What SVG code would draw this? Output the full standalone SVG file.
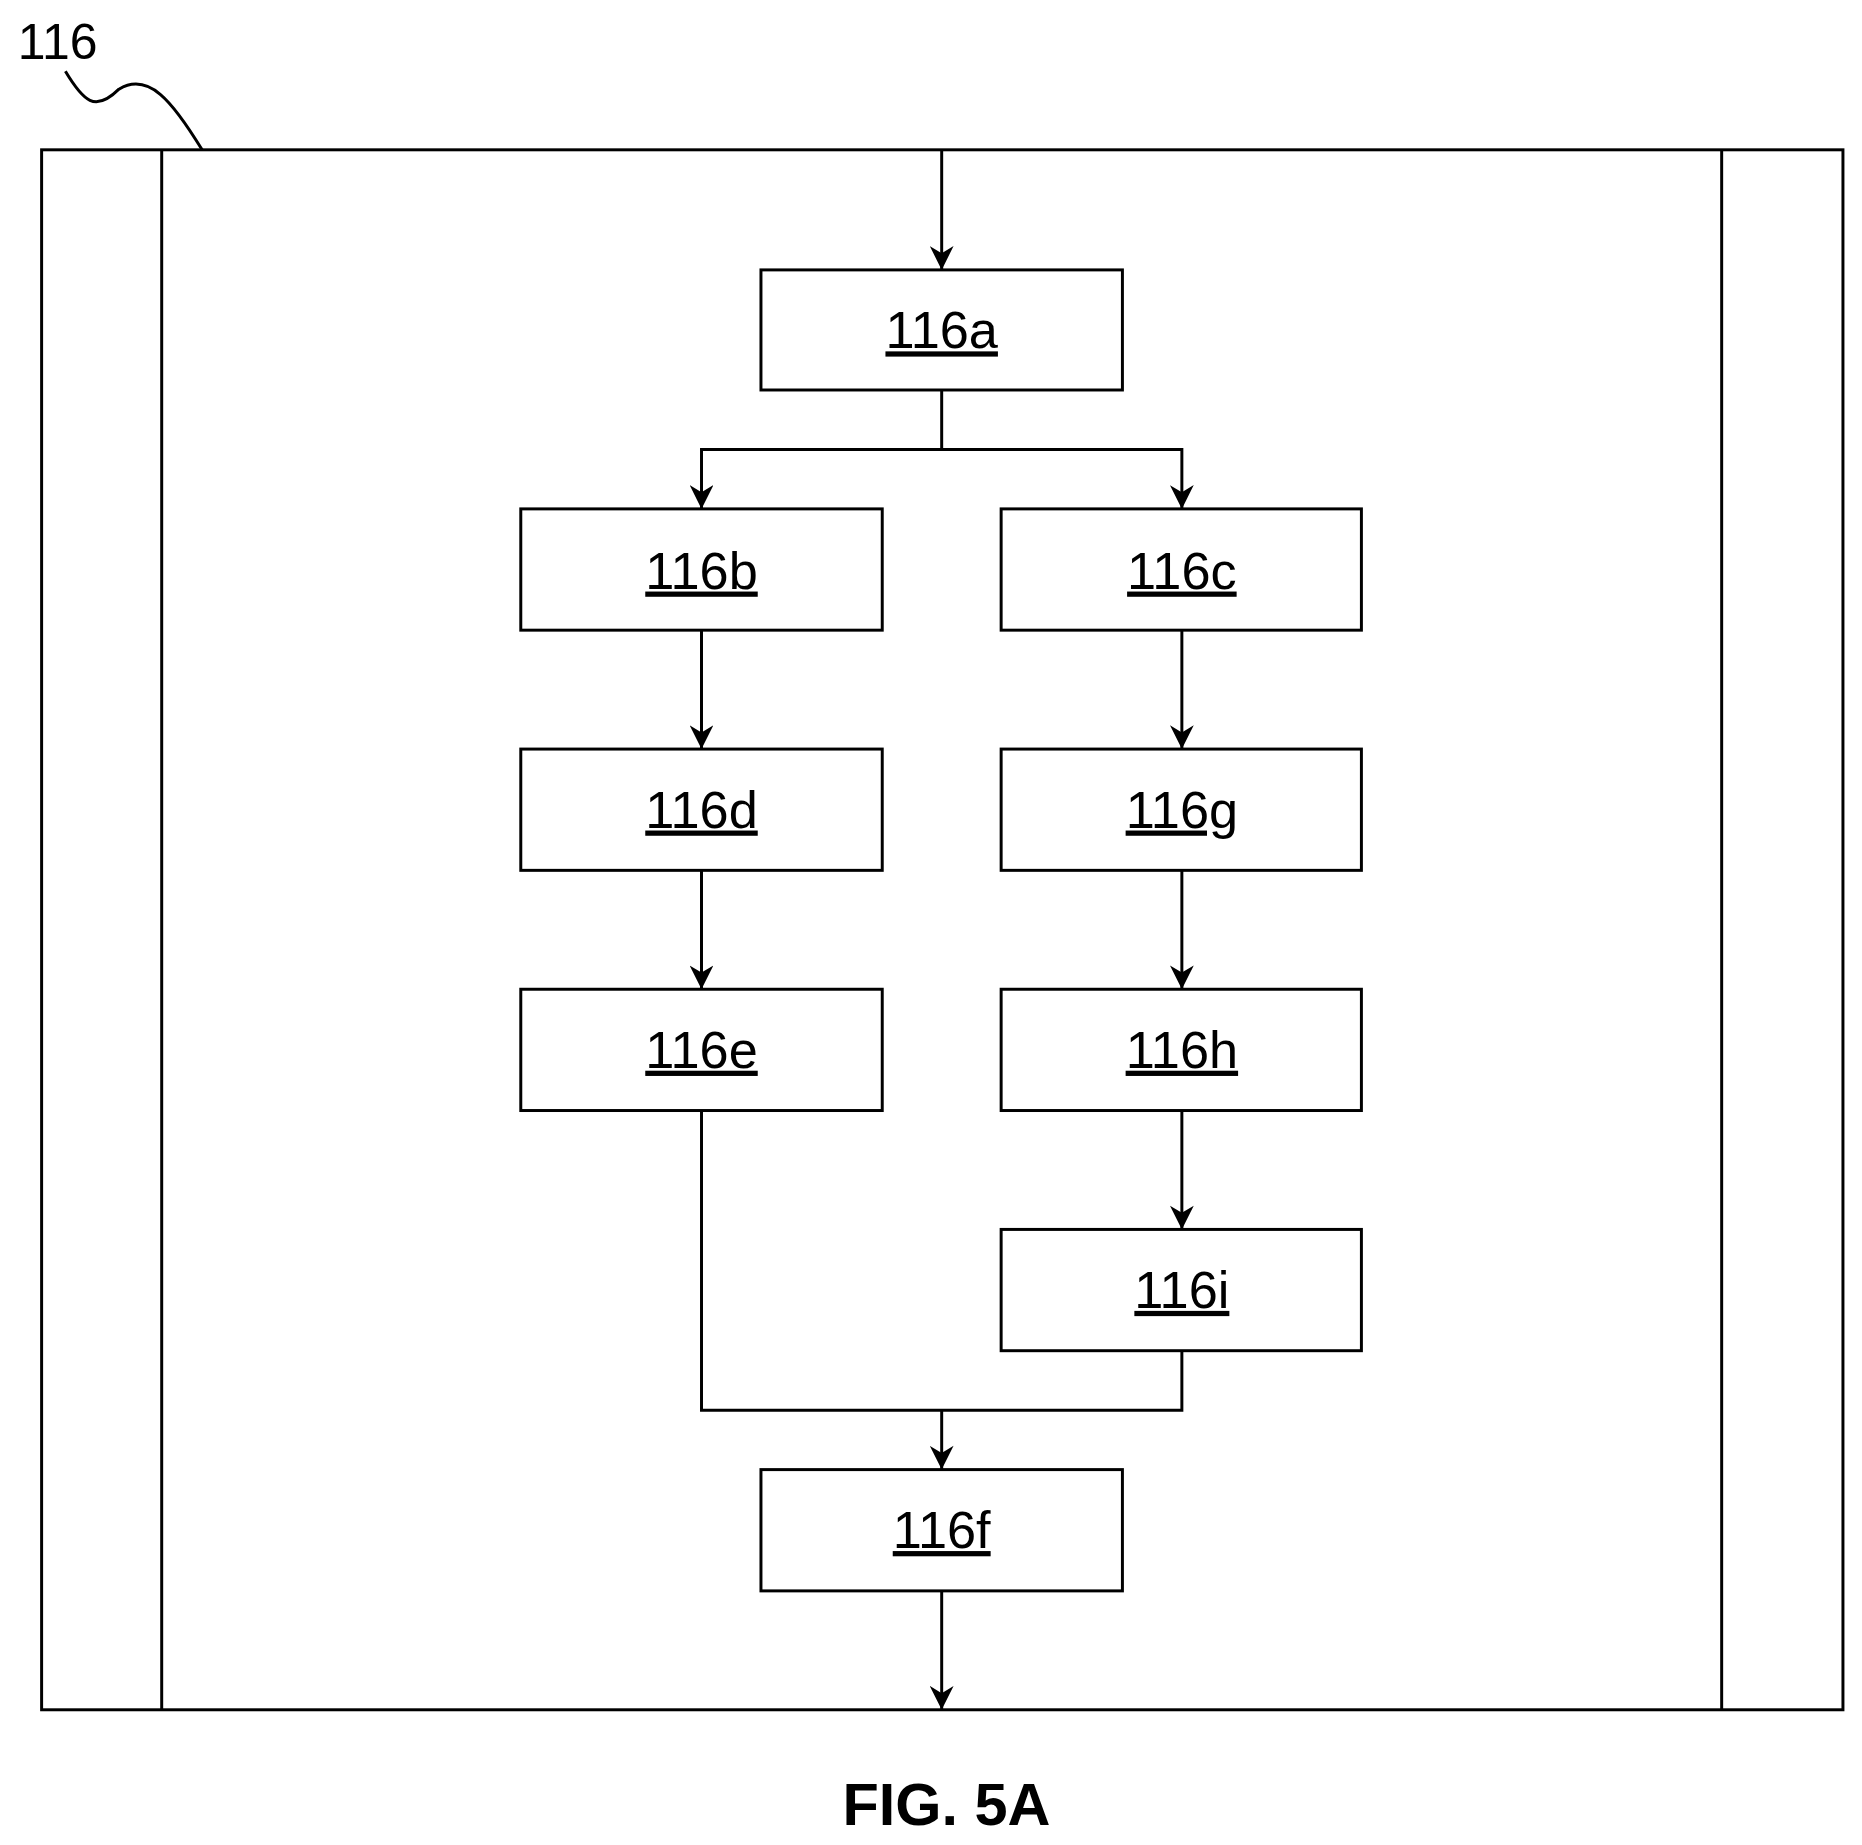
<svg xmlns="http://www.w3.org/2000/svg" width="1862" height="1845" viewBox="0 0 1862 1845">
<defs>
<style>
.b{fill:#fff;stroke:#000;stroke-width:2.5}
.l{fill:none;stroke:#000;stroke-width:2.5}
.t{font-family:"Liberation Sans",Arial,sans-serif;font-size:44px;text-anchor:middle;text-decoration:underline}
</style>
<marker id="a" viewBox="0 0 10 10" refX="10" refY="5" markerWidth="22" markerHeight="20" markerUnits="userSpaceOnUse" orient="auto"><path d="M0,0 L10,5 L0,10 L3,5 z" fill="#000"/></marker>
</defs>
<rect width="1862" height="1845" fill="#fff"/>
<g transform="scale(1.189)">
<g id="frame">
<rect class="b" x="35" y="126" width="1515" height="1312"/>
<line class="l" x1="136" y1="126" x2="136" y2="1438"/>
<line class="l" x1="1448" y1="126" x2="1448" y2="1438"/>
<text x="15" y="50" font-family="Liberation Sans,Arial,sans-serif" font-size="42">116</text>
<path class="l" d="M55,60 C70,85 80,95 100,75 C125,60 145,85 170,126"/>
</g>
<g id="connectors">
<line class="l" x1="792" y1="126" x2="792" y2="227" marker-end="url(#a)"/>
<path class="l" d="M792,328 V378 H590 V428" marker-end="url(#a)"/>
<path class="l" d="M792,378 H994 V428" marker-end="url(#a)"/>
<line class="l" x1="590" y1="530" x2="590" y2="630" marker-end="url(#a)"/>
<line class="l" x1="590" y1="732" x2="590" y2="832" marker-end="url(#a)"/>
<line class="l" x1="994" y1="530" x2="994" y2="630" marker-end="url(#a)"/>
<line class="l" x1="994" y1="732" x2="994" y2="832" marker-end="url(#a)"/>
<line class="l" x1="994" y1="934" x2="994" y2="1034" marker-end="url(#a)"/>
<path class="l" d="M590,934 V1186 H994 V1136"/>
<line class="l" x1="792" y1="1186" x2="792" y2="1236" marker-end="url(#a)"/>
<line class="l" x1="792" y1="1338" x2="792" y2="1438" marker-end="url(#a)"/>
</g>
<g id="n116a"><rect class="b" x="640" y="227" width="304" height="101"/><text class="t" x="792" y="293">116a</text></g>
<g id="n116b"><rect class="b" x="438" y="428" width="304" height="102"/><text class="t" x="590" y="495">116b</text></g>
<g id="n116c"><rect class="b" x="842" y="428" width="303" height="102"/><text class="t" x="994" y="495">116c</text></g>
<g id="n116d"><rect class="b" x="438" y="630" width="304" height="102"/><text class="t" x="590" y="696">116d</text></g>
<g id="n116g"><rect class="b" x="842" y="630" width="303" height="102"/><text class="t" x="994" y="696">116g</text></g>
<g id="n116e"><rect class="b" x="438" y="832" width="304" height="102"/><text class="t" x="590" y="898">116e</text></g>
<g id="n116h"><rect class="b" x="842" y="832" width="303" height="102"/><text class="t" x="994" y="898">116h</text></g>
<g id="n116i"><rect class="b" x="842" y="1034" width="303" height="102"/><text class="t" x="994" y="1100">116i</text></g>
<g id="n116f"><rect class="b" x="640" y="1236" width="304" height="102"/><text class="t" x="792" y="1302">116f</text></g>
<text x="796" y="1535" font-family="Liberation Sans,Arial,sans-serif" font-size="50" font-weight="bold" text-anchor="middle">FIG. 5A</text>
</g>
</svg>
